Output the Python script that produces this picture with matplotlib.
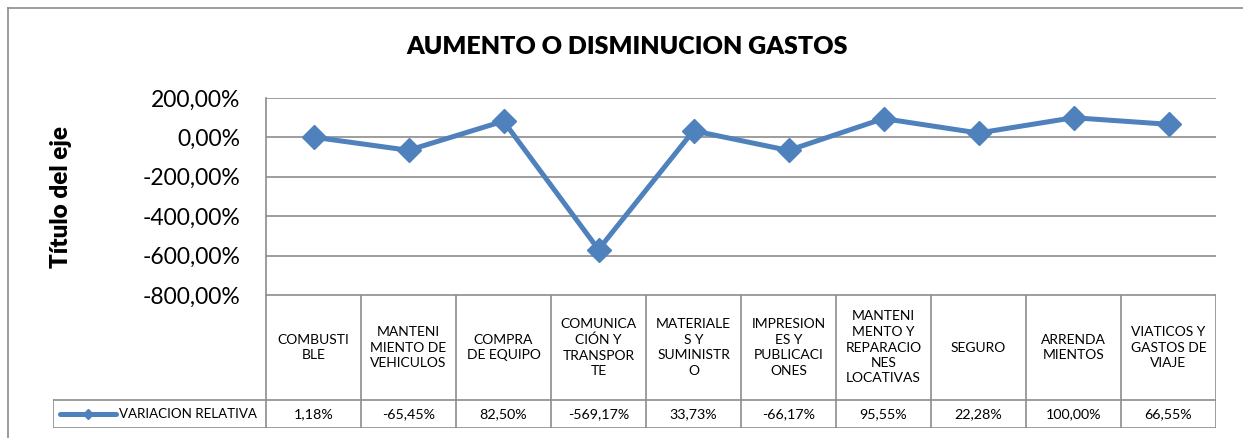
import matplotlib.pyplot as plt
from matplotlib.ticker import FuncFormatter, MultipleLocator
from matplotlib.lines import Line2D

plt.rcParams['font.family'] = ['Lato', 'DejaVu Sans']

# categories as shown in the table header (with Excel's line breaks)
categorias = [
    'COMBUSTI\nBLE',
    'MANTENI\nMIENTO DE\nVEHICULOS',
    'COMPRA\nDE EQUIPO',
    'COMUNICA\nCIÓN Y\nTRANSPOR\nTE',
    'MATERIALE\nS Y\nSUMINISTR\nO',
    'IMPRESION\nES Y\nPUBLICACI\nONES',
    'MANTENI\nMENTO Y\nREPARACIO\nNES\nLOCATIVAS',
    'SEGURO',
    'ARRENDA\nMIENTOS',
    'VIATICOS Y\nGASTOS DE\nVIAJE',
]
variacion = [1.18, -65.45, 82.50, -569.17, 33.73, -66.17, 95.55, 22.28, 100.00, 66.55]
serie = 'VARIACION RELATIVA'

azul = '#4F81BD'
gris = '#8C8C8C'
W, H = 1243, 438

def pct(v):
    return f'{v:,.2f}'.replace(',', 'X').replace('.', ',').replace('X', '.') + '%'

fig = plt.figure(figsize=(W / 100, H / 100), dpi=100)

# outer chart frame (top and left edges visible)
fig.add_artist(Line2D([8 / W, 8 / W], [0, 1 - 8 / H], color=gris, lw=1.2))
fig.add_artist(Line2D([8 / W, 1], [1 - 8 / H, 1 - 8 / H], color=gris, lw=1.2))

left, right = 266 / W, 1216 / W
top, bottom = 1 - 98 / H, 1 - 295 / H
ax = fig.add_axes([left, bottom, right - left, top - bottom])

n = len(categorias)
x = list(range(n))
ax.plot(x, variacion, color=azul, lw=3.6, marker='D', markersize=12,
        markerfacecolor=azul, markeredgecolor=azul, solid_joinstyle='miter')
ax.set_xlim(-0.5, n - 0.5)
ax.set_ylim(-800, 200)
ax.yaxis.set_major_locator(MultipleLocator(200))
ax.yaxis.set_major_formatter(FuncFormatter(lambda v, p: pct(v)))
ax.grid(axis='y', color=gris, lw=1.2)
ax.set_axisbelow(True)
ax.set_xticks([])
ax.tick_params(axis='y', length=0, pad=18.5, labelsize=16.5)
for s in ['top', 'right', 'bottom']:
    ax.spines[s].set_visible(False)
ax.spines['left'].set_color(gris)
ax.spines['left'].set_linewidth(1.2)
ax.set_ylabel('Título del eje', fontsize=17.5, fontweight='heavy')
ax.yaxis.set_label_coords((72 - 266) / 950, 0.5)

fig.text(627 / W, 1 - 47 / H, 'AUMENTO O DISMINUCION GASTOS', ha='center',
         va='center', fontsize=18, fontweight='heavy')

# data table under the plot, sharing the category positions
tb_left = 53 / W
tab = fig.add_axes([tb_left, 1 - 428 / H, right - tb_left, 133 / H])
span = (right - left) / n  # one category width in figure units
x0 = -0.5 - (left - tb_left) / span
tab.set_xlim(x0, n - 0.5)
tab.set_ylim(0, 133)
tab.axis('off')
yh = 28  # header / values boundary
for i in range(n + 1):
    tab.plot([i - 0.5, i - 0.5], [0, 133], color=gris, lw=1.2)
tab.plot([-0.5, n - 0.5], [133, 133], color=gris, lw=1.2)
tab.plot([x0, n - 0.5], [yh, yh], color=gris, lw=1.2)
tab.plot([x0, n - 0.5], [0, 0], color=gris, lw=1.2)
tab.plot([x0, x0], [0, yh], color=gris, lw=1.2)
for i, (c, v) in enumerate(zip(categorias, variacion)):
    tab.text(i, (133 + yh) / 2, c, ha='center', va='center', fontsize=10,
             linespacing=1.35)
    tab.text(i, yh / 2, pct(v), ha='center', va='center', fontsize=10.3)
# legend key inside the table
kx = [x0 + 7 / (span * W), x0 + 63 / (span * W)]
tab.plot(kx, [yh / 2, yh / 2], color=azul, lw=3.6, solid_capstyle='round')
tab.plot([sum(kx) / 2], [yh / 2], marker='D', color=azul, markersize=5)
tab.text(x0 + 66 / (span * W), yh / 2, serie, ha='left', va='center', fontsize=9.6)

fig.savefig('out.png', dpi=100)
